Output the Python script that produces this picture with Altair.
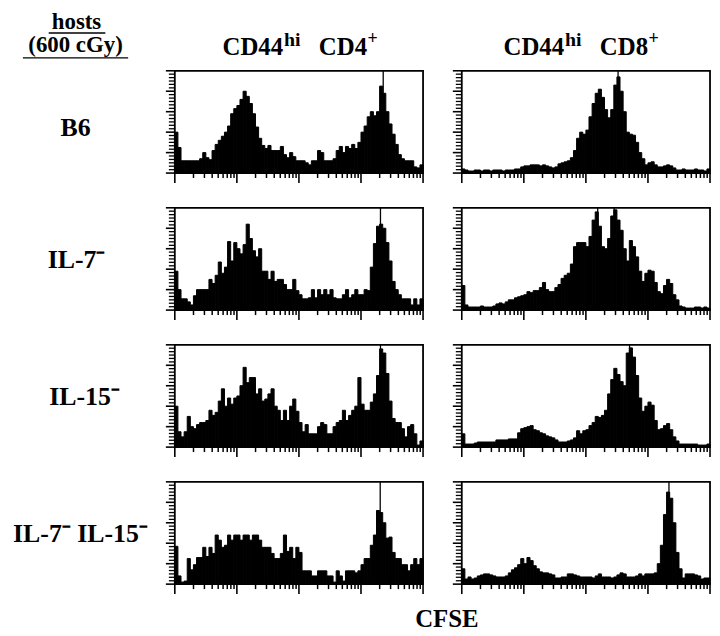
import altair as alt
import pandas as pd

# ---------------- data ----------------
host_labels = ["B6", "IL-7⁻", "IL-15⁻", "IL-7⁻ IL-15⁻"]
col_titles = [["CD44", "hi", "CD4", "+"], ["CD44", "hi", "CD8", "+"]]
corner_title = ["hosts", "(600 cGy)"]
x_title = "CFSE"

# CFSE histograms: 80 channels spread evenly over 4 log decades (values in % of full scale)
b6_cd4 = [40, 25, 12, 12, 12, 12, 12, 12, 14, 20, 15, 13, 22, 28, 32, 36, 40, 46, 58, 63,
          66, 72, 80, 75, 68, 58, 45, 34, 27, 24, 27, 22, 22, 22, 26, 18, 15, 20, 16, 12,
          12, 12, 10, 8, 12, 12, 22, 20, 12, 12, 12, 14, 22, 26, 20, 26, 24, 28, 24, 30,
          40, 46, 55, 60, 56, 60, 85, 78, 60, 48, 38, 28, 18, 14, 12, 12, 12, 6, 5, 8]
b6_cd8 = [4, 3, 2, 2, 3, 3, 2, 3, 3, 2, 3, 3, 3, 2, 3, 3, 3, 4, 4, 6,
          7, 7, 8, 8, 8, 7, 8, 7, 6, 5, 6, 9, 10, 11, 12, 15, 22, 34, 40, 38,
          42, 55, 68, 78, 82, 74, 62, 54, 62, 86, 94, 80, 60, 40, 38, 37, 30, 20, 14, 8,
          10, 11, 8, 6, 6, 7, 8, 7, 5, 3, 3, 4, 3, 3, 3, 4, 3, 3, 2, 4]
il7_cd4 = [38, 20, 11, 11, 8, 5, 14, 20, 20, 20, 20, 30, 26, 34, 47, 36, 42, 67, 48, 66,
           60, 55, 64, 84, 70, 58, 52, 60, 38, 38, 30, 38, 28, 30, 30, 25, 20, 20, 30, 19,
           15, 11, 11, 12, 20, 12, 20, 15, 20, 15, 20, 12, 11, 11, 15, 20, 12, 15, 20, 15,
           15, 20, 19, 42, 65, 82, 84, 80, 66, 48, 28, 20, 15, 11, 11, 11, 5, 11, 5, 11]
il7_cd8 = [24, 5, 3, 3, 3, 3, 4, 3, 3, 3, 4, 6, 7, 6, 8, 10, 10, 12, 13, 14,
           15, 18, 17, 19, 19, 22, 27, 20, 18, 18, 22, 25, 31, 34, 36, 45, 62, 66, 66, 66,
           62, 72, 88, 96, 82, 62, 60, 70, 92, 98, 88, 78, 60, 48, 68, 62, 52, 38, 28, 36,
           39, 38, 27, 18, 16, 24, 30, 26, 15, 10, 4, 3, 2, 2, 2, 3, 3, 2, 3, 2]
il15_cd4 = [40, 15, 10, 15, 30, 20, 18, 22, 24, 24, 26, 36, 31, 34, 45, 57, 40, 48, 42, 48,
            50, 60, 78, 63, 68, 68, 52, 57, 45, 47, 52, 57, 40, 36, 26, 36, 26, 40, 47, 35,
            24, 15, 22, 13, 13, 13, 20, 24, 22, 13, 13, 20, 24, 26, 36, 26, 31, 36, 40, 68,
            42, 36, 36, 44, 52, 70, 96, 92, 72, 45, 28, 24, 24, 18, 10, 20, 22, 13, 2, 6]
il15_cd8 = [13, 3, 3, 3, 4, 5, 5, 5, 5, 5, 5, 7, 7, 7, 7, 8, 8, 8, 14, 18,
            19, 20, 21, 17, 16, 14, 13, 11, 10, 9, 7, 5, 5, 5, 6, 7, 9, 16, 13, 16,
            17, 21, 24, 30, 29, 31, 36, 52, 66, 77, 71, 64, 60, 92, 97, 88, 70, 48, 35, 40,
            44, 41, 26, 17, 18, 21, 23, 17, 10, 6, 3, 3, 3, 3, 3, 3, 2, 2, 2, 3]
dko_cd4 = [37, 8, 2, 3, 25, 14, 19, 26, 26, 36, 27, 36, 30, 48, 43, 36, 38, 48, 43, 48,
           48, 43, 48, 48, 43, 48, 48, 43, 36, 36, 36, 30, 25, 25, 30, 48, 32, 36, 25, 36,
           31, 13, 13, 13, 8, 8, 13, 13, 13, 8, 8, 2, 13, 8, 3, 13, 13, 13, 11, 13,
           19, 25, 25, 38, 48, 72, 70, 60, 45, 46, 31, 25, 25, 19, 19, 13, 19, 25, 19, 25]
dko_cd8 = [15, 5, 7, 5, 6, 8, 9, 10, 10, 9, 8, 7, 7, 7, 8, 11, 14, 16, 19, 25,
           20, 26, 23, 18, 15, 12, 11, 11, 10, 9, 6, 6, 7, 7, 10, 10, 9, 8, 7, 7,
           7, 7, 6, 8, 10, 7, 7, 7, 6, 7, 9, 11, 10, 7, 7, 7, 8, 10, 8, 10,
           10, 10, 11, 20, 38, 68, 90, 84, 60, 31, 15, 6, 10, 10, 10, 9, 8, 5, 6, 6]

# off-scale peak channels (CFSE value) drawn up to the top of the frame
spikes_b6 = [[2280], [330]]
spikes_il7 = [[2060], [155, 285]]
spikes_il15 = [[2060], [505]]
spikes_dko = [[2040], [2180]]

histograms = [[b6_cd4, b6_cd8], [il7_cd4, il7_cd8], [il15_cd4, il15_cd8], [dko_cd4, dko_cd8]]
spikes = [spikes_b6, spikes_il7, spikes_il15, spikes_dko]

x_major_ticks = [1, 10, 100, 1000, 10000]
x_minor_ticks = [2, 3, 4, 5, 6, 7, 8, 9,
                 20, 30, 40, 50, 60, 70, 80, 90,
                 200, 300, 400, 500, 600, 700, 800, 900,
                 2000, 3000, 4000, 5000, 6000, 7000, 8000, 9000]
y_major_ticks = [0, 20, 40, 60, 80, 100]
y_minor_ticks = [3.3, 6.7, 10, 13.3, 16.7, 23.3, 26.7, 30, 33.3, 36.7,
                 43.3, 46.7, 50, 53.3, 56.7, 63.3, 66.7, 70, 73.3, 76.7,
                 83.3, 86.7, 90, 93.3, 96.7]

N_BINS = 80
DECADES = 4
YMAX = 100

# ---------------- layout ----------------
SERIF = "Liberation Serif"
W, H = 250, 103
LABEL_W = 128
HEAD_H = 25
FOOT_H = 4
label_x = [67, 68, 76, 72]
label_dy = [5, 0, 0, 0]
head_x = [[48, 110, 145, 194], [42, 104, 139, 188]]

edges = [10 ** (DECADES * i / N_BINS) for i in range(N_BINS + 1)]
xs = alt.Scale(type="log", domain=[1, 10 ** DECADES], nice=False)
ys = alt.Scale(domain=[0, YMAX], nice=False, zero=True)


def panel(counts, spike_list):
    df = pd.DataFrame({"lo": edges[:-1], "hi": edges[1:], "count": counts})
    df["base"] = 0
    bars = alt.Chart(df).mark_rect(color="black", stroke="black", strokeWidth=1.0).encode(
        x=alt.X("lo:Q", scale=xs, axis=None),
        x2="hi:Q",
        y=alt.Y("count:Q", scale=ys, axis=None),
        y2="base:Q",
    )
    sp = pd.DataFrame({"x": spike_list})
    sp["y0"] = 0
    sp["y1"] = YMAX
    spike = alt.Chart(sp).mark_rule(color="black", strokeWidth=1.3).encode(
        x=alt.X("x:Q", scale=xs, axis=None),
        y=alt.Y("y0:Q", scale=ys, axis=None),
        y2="y1:Q",
    )
    xmaj = alt.Chart(pd.DataFrame({"t": x_major_ticks})).mark_rule(color="black", strokeWidth=1.6).encode(
        x=alt.X("t:Q", scale=xs, axis=None), y=alt.value(H), y2=alt.value(H + 10))
    xmin = alt.Chart(pd.DataFrame({"t": x_minor_ticks})).mark_rule(color="black", strokeWidth=1.5).encode(
        x=alt.X("t:Q", scale=xs, axis=None), y=alt.value(H), y2=alt.value(H + 5))
    ymaj = alt.Chart(pd.DataFrame({"t": y_major_ticks})).mark_rule(color="black", strokeWidth=1.6).encode(
        y=alt.Y("t:Q", scale=ys, axis=None), x=alt.value(-9), x2=alt.value(0))
    ymin = alt.Chart(pd.DataFrame({"t": y_minor_ticks})).mark_rule(color="black", strokeWidth=1.3).encode(
        y=alt.Y("t:Q", scale=ys, axis=None), x=alt.value(-6), x2=alt.value(0))
    return alt.layer(bars, spike, xmaj, xmin, ymaj, ymin).properties(
        width=W, height=H, view=alt.ViewBackground(stroke="black", strokeWidth=1.8))


def txt(s, x, y, size, align="left"):
    return alt.Chart(alt.Data(values=[{"t": s}])).mark_text(
        font=SERIF, fontSize=size, fontWeight="bold", align=align,
        baseline="alphabetic", color="black").encode(
        x=alt.value(x), y=alt.value(y), text="t:N")


def uline(x1, x2, y):
    return alt.Chart(alt.Data(values=[{"t": 0}])).mark_rule(color="black", strokeWidth=1.5).encode(
        x=alt.value(x1), x2=alt.value(x2), y=alt.value(y))


cells = []
# header row
corner = alt.layer(
    txt(corner_title[0], 68, 18, 23, align="center"),
    uline(40, 97, 22),
    txt(corner_title[1], 67, 41, 23, align="center"),
    uline(14, 120, 47),
).properties(width=LABEL_W, height=HEAD_H)
cells.append(corner)
for c in range(2):
    parts = col_titles[c]
    xp = head_x[c]
    cells.append(alt.layer(
        txt(parts[0], xp[0], 44, 25),
        txt(parts[1], xp[1], 35, 20),
        txt(parts[2], xp[2], 44, 25),
        txt(parts[3], xp[3], 33, 18),
    ).properties(width=W, height=HEAD_H))

# panel rows
for i in range(4):
    cells.append(txt(host_labels[i], label_x[i], H / 2 + 9 + label_dy[i], 26,
                     align="center").properties(width=LABEL_W, height=H))
    cells.append(panel(histograms[i][0], spikes[i][0]))
    cells.append(panel(histograms[i][1], spikes[i][1]))

# footer row
cells.append(txt("", 0, 0, 10).properties(width=LABEL_W, height=FOOT_H))
cells.append(txt(x_title, 274, 8, 25, align="center").properties(width=W, height=FOOT_H))

chart = alt.concat(
    *cells,
    columns=3,
    spacing={"row": 35, "column": 39},
    bounds="flush",
).properties(padding=0, background="white").configure_view(stroke="transparent")

chart.save("out.html", embed_options={"renderer": "svg", "actions": False})
